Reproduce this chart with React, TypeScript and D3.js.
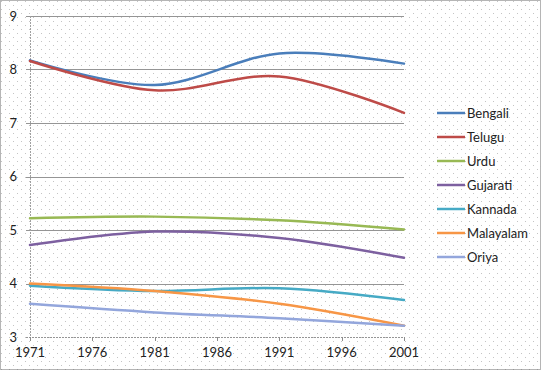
import React from "react";
import * as d3 from "d3";

const years = [1971, 1981, 1991, 2001];
const xTicks = [1971, 1976, 1981, 1986, 1991, 1996, 2001];
const yTicks = [3, 4, 5, 6, 7, 8, 9];

const languages = ["Bengali", "Telugu", "Urdu", "Gujarati", "Kannada", "Malayalam", "Oriya"];
const bengali = [8.17, 7.71, 8.3, 8.11];
const telugu = [8.16, 7.61, 7.87, 7.19];
const urdu = [5.22, 5.25, 5.18, 5.01];
const gujarati = [4.72, 4.97, 4.85, 4.48];
const kannada = [3.96, 3.86, 3.91, 3.69];
const malayalam = [4.0, 3.86, 3.62, 3.21];
const oriya = [3.62, 3.46, 3.35, 3.21];

const seriesValues = [bengali, telugu, urdu, gujarati, kannada, malayalam, oriya];
const colors = ["#4A7EBB", "#BE4B48", "#98B954", "#7D60A0", "#46AAC5", "#F79646", "#93A6DC"];

const W = 541;
const H = 370;
const plot = { left: 30, right: 404, top: 16, bottom: 337 };
const font = "Lato, 'Open Sans', sans-serif";
const fs = 13;

export default function App() {
  const x = d3.scaleLinear().domain([1971, 2001]).range([plot.left, plot.right]);
  const y = d3.scaleLinear().domain([3, 9]).range([plot.bottom, plot.top]);
  const line = d3
    .line<number>()
    .x((_, i) => x(years[i]))
    .y((d) => y(d))
    .curve(d3.curveCardinal.tension(0));

  return (
    <svg
      width={W}
      height={H}
      style={{ position: "absolute", left: 0, top: 0, display: "block" }}
      fontFamily={font}
    >
      <defs>
        <pattern id="dots" width={8} height={8} patternUnits="userSpaceOnUse">
          <rect x={1} y={1} width={1} height={1} fill="#c4c4c4" />
          <rect x={5} y={5} width={1} height={1} fill="#c4c4c4" />
        </pattern>
      </defs>
      <rect x={0} y={0} width={W} height={H} fill="#ffffff" />
      <rect x={0} y={0} width={W} height={H} fill="url(#dots)" />
      <rect
        x={0.5}
        y={0.5}
        width={W - 1}
        height={H - 1}
        fill="none"
        stroke="#6a6a6a"
        strokeDasharray="1,1"
      />

      {/* gridlines */}
      {yTicks.map((t) => (
        <g key={"g" + t}>
          <line
            x1={plot.left - 4}
            x2={plot.right}
            y1={Math.round(y(t)) + 0.5}
            y2={Math.round(y(t)) + 0.5}
            stroke="#959595"
            strokeWidth={1}
            strokeDasharray={t === 3 ? "2,1" : undefined}
          />
          <text
            x={plot.left - 13}
            y={y(t) + 4.5}
            textAnchor="end"
            fontSize={fs}
            fill="#222"
          >
            {t}
          </text>
        </g>
      ))}
      {/* y axis */}
      <line
        x1={plot.left + 0.5}
        x2={plot.left + 0.5}
        y1={plot.top}
        y2={plot.bottom + 4}
        stroke="#a0a0a0"
        strokeDasharray="2,1"
      />
      {/* x ticks */}
      {xTicks.map((t) => (
        <g key={"x" + t}>
          <line
            x1={Math.round(x(t)) + 0.5}
            x2={Math.round(x(t)) + 0.5}
            y1={plot.bottom}
            y2={plot.bottom + 4}
            stroke="#8c8c8c"
          />
          <text x={x(t)} y={plot.bottom + 20} textAnchor="middle" fontSize={fs} fill="#222">
            {t}
          </text>
        </g>
      ))}

      {/* series */}
      {seriesValues.map((vals, i) => (
        <path
          key={languages[i]}
          d={line(vals) || ""}
          fill="none"
          stroke={colors[i]}
          strokeWidth={2.5}
          strokeLinecap="round"
        />
      ))}

      {/* legend */}
      {languages.map((name, i) => {
        const ly = 113 + i * 24;
        return (
          <g key={"l" + name}>
            <line x1={437} x2={465} y1={ly} y2={ly} stroke={colors[i]} strokeWidth={2.5} />
            <text x={467} y={ly + 4.5} fontSize={fs} fill="#222">
              {name}
            </text>
          </g>
        );
      })}
    </svg>
  );
}
